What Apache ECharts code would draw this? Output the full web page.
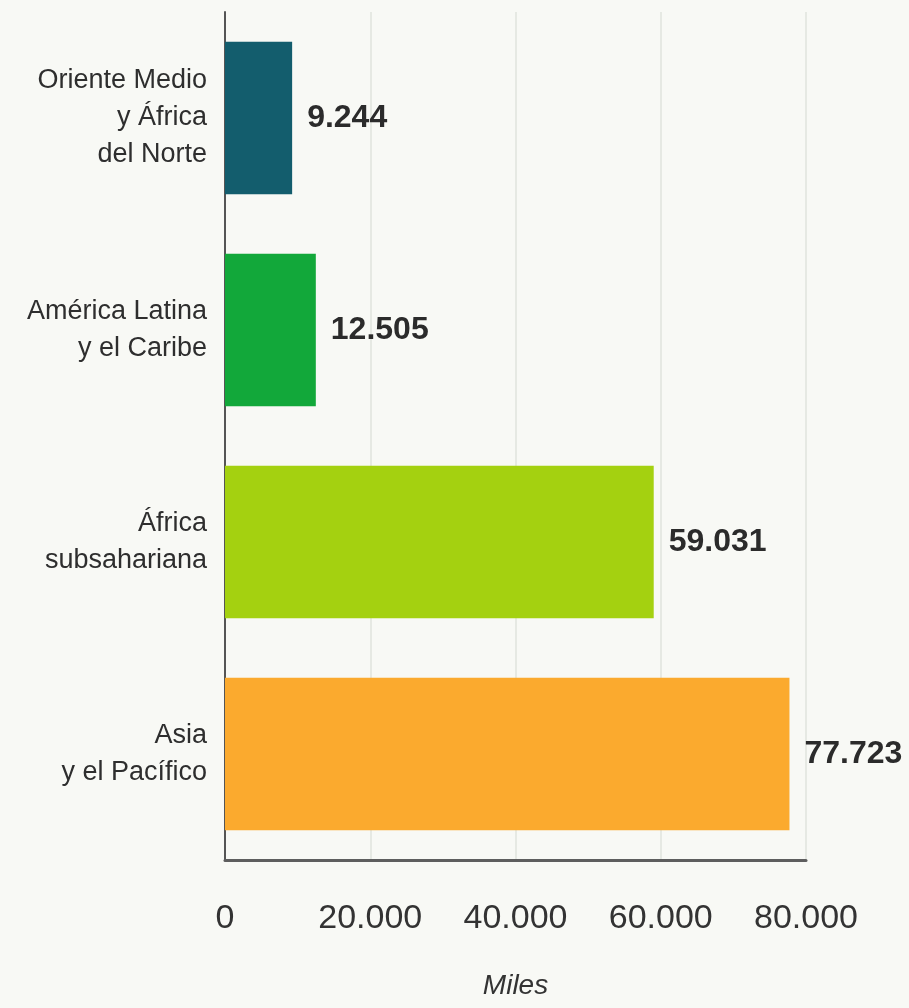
<!DOCTYPE html>
<html>
<head>
<meta charset="utf-8">
<script src="https://cdn.jsdelivr.net/npm/echarts@6/dist/echarts.min.js"></script>
<style>
html,body{margin:0;padding:0;background:#f8f9f5;}
#chart{width:909px;height:1008px;}
</style>
</head>
<body>
<div id="chart"></div>
<script>
const categories = ["Oriente Medio\ny África\ndel Norte", "América Latina\ny el Caribe", "África\nsubsahariana", "Asia\ny el Pacífico"];
const values = [9244, 12505, 59031, 77723];
const barColors = ["#135d6d", "#12a83a", "#a4d110", "#fbaa2e"];
const axisMax = 80000;
const axisStep = 20000;
const axisTitle = "Miles";

const fmt = v => String(v).replace(/\B(?=(\d{3})+(?!\d))/g, ".");

const chart = echarts.init(document.getElementById('chart'));
chart.setOption({
  backgroundColor: '#f8f9f5',
  animation: false,
  grid: { left: 225, right: 103, top: 12, bottom: 148, containLabel: false },
  xAxis: {
    type: 'value', min: 0, max: axisMax, interval: axisStep,
    name: axisTitle, nameLocation: 'middle', nameGap: 112,
    nameTextStyle: { fontFamily: 'Liberation Sans', fontStyle: 'italic', fontSize: 28, color: '#333' },
    axisLine: { show: true, lineStyle: { color: '#5e5e5e', width: 3 } },
    axisTick: { show: false },
    axisLabel: { margin: 42, fontFamily: 'Liberation Sans', fontSize: 34, color: '#333', formatter: v => fmt(v) },
    splitLine: { show: true, lineStyle: { color: '#e6e9e3', width: 2 } }
  },
  yAxis: {
    type: 'category', data: categories, inverse: true,
    axisLine: { show: true, lineStyle: { color: '#555', width: 2 } },
    axisTick: { show: false },
    axisLabel: { margin: 18, fontFamily: 'Liberation Sans', fontSize: 27, lineHeight: 37, color: '#2e2e2e', align: 'right', padding: [0, 0, 8, 0] }
  },
  series: [{
    type: 'bar',
    data: values.map((v, i) => ({ value: v, itemStyle: { color: barColors[i] } })),
    barCategoryGap: '28%',
    label: {
      show: true, position: 'right', distance: 15,
      fontFamily: 'Liberation Sans', fontWeight: 'bold', fontSize: 32, color: '#2b2b2b',
      formatter: p => fmt(p.value)
    }
  }]
});
</script>
</body>
</html>
